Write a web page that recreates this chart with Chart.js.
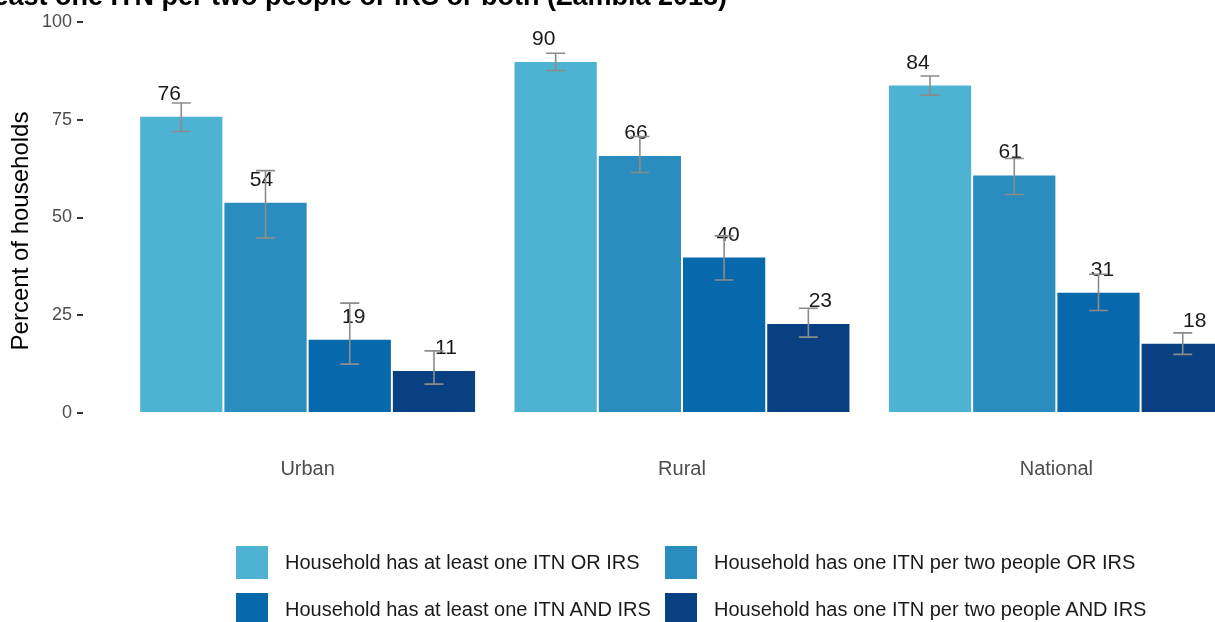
<!DOCTYPE html>
<html>
<head>
<meta charset="utf-8">
<script src="https://cdn.jsdelivr.net/npm/chart.js@4.4.0/dist/chart.umd.min.js"></script>
<style>
  body { margin: 0; width: 1215px; height: 622px; overflow: hidden; background: #fff; font-family: "Liberation Sans", Arial, sans-serif; position: relative; }
  #wrap { position: absolute; left: 0; top: 0; width: 1300px; height: 622px; }
  #title { position: absolute; right: 488px; top: -19px; font-weight: bold; font-size: 27px; color: #000; white-space: nowrap; }
  .lg { position: absolute; font-size: 20px; color: #1a1a1a; white-space: nowrap; }
  .sw { position: absolute; width: 32px; height: 33px; }
</style>
</head>
<body>
<div id="wrap"><canvas id="chart"></canvas></div>
<div id="title">least one ITN per two people or IRS or both (Zambia 2018)</div>
<div id="legend"></div>
<script>
const categories = ['Urban', 'Rural', 'National'];
const seriesNames = [
  'Household has at least one ITN OR IRS',
  'Household has one ITN per two people OR IRS',
  'Household has at least one ITN AND IRS',
  'Household has one ITN per two people AND IRS'
];
const seriesColors = ['#4eb3d3', '#2b8cbe', '#0868ac', '#084081'];

const atLeastOneOr = [76, 90, 84];
const perTwoOr = [54, 66, 61];
const atLeastOneAnd = [19, 40, 31];
const perTwoAnd = [11, 23, 18];

const lowAtLeastOneOr = [72, 87.6, 81.3];
const highAtLeastOneOr = [79.3, 92, 86.2];
const lowPerTwoOr = [44.8, 61.5, 55.9];
const highPerTwoOr = [62, 70.7, 65.1];
const lowAtLeastOneAnd = [12.5, 34, 26.2];
const highAtLeastOneAnd = [28.1, 45.3, 35.5];
const lowPerTwoAnd = [7.4, 19.4, 15];
const highPerTwoAnd = [15.9, 26.8, 20.5];

const yTicks = [0, 25, 50, 75, 100];

const values = [atLeastOneOr, perTwoOr, atLeastOneAnd, perTwoAnd];
const lows = [lowAtLeastOneOr, lowPerTwoOr, lowAtLeastOneAnd, lowPerTwoAnd];
const highs = [highAtLeastOneOr, highPerTwoOr, highAtLeastOneAnd, highPerTwoAnd];

// legend (2 x 2)
const legend = document.getElementById('legend');
const lgPos = [[236, 546], [665, 546], [236, 593], [665, 593]];
seriesNames.forEach((name, i) => {
  const sw = document.createElement('div');
  sw.className = 'sw';
  sw.style.left = lgPos[i][0] + 'px';
  sw.style.top = lgPos[i][1] + 'px';
  sw.style.background = seriesColors[i];
  legend.appendChild(sw);
  const t = document.createElement('div');
  t.className = 'lg';
  t.style.left = (lgPos[i][0] + 49) + 'px';
  t.style.top = (lgPos[i][1] + 5) + 'px';
  t.textContent = name;
  legend.appendChild(t);
});

const errorBars = {
  id: 'errorBars',
  afterDatasetsDraw(chart) {
    const ctx = chart.ctx;
    const y = chart.scales.y;
    ctx.save();
    chart.data.datasets.forEach((ds, i) => {
      const meta = chart.getDatasetMeta(i);
      meta.data.forEach((bar, j) => {
        // value labels, dodged a bit wider than the bars
        ctx.fillStyle = '#1a1a1a';
        ctx.font = '21px "Liberation Sans", Arial, sans-serif';
        ctx.textAlign = 'center';
        ctx.textBaseline = 'alphabetic';
        ctx.fillText(String(ds.data[j].y), bar.x + (i - 1.5) * 8, bar.y - 16);
      });
    });
    chart.data.datasets.forEach((ds, i) => {
      const meta = chart.getDatasetMeta(i);
      meta.data.forEach((bar, j) => {
        const lo = y.getPixelForValue(lows[i][j]);
        const hi = y.getPixelForValue(highs[i][j]);
        ctx.strokeStyle = '#8c8c8c';
        ctx.lineWidth = 1.6;
        ctx.beginPath();
        ctx.moveTo(bar.x, lo); ctx.lineTo(bar.x, hi);
        ctx.moveTo(bar.x - 9.5, lo); ctx.lineTo(bar.x + 9.5, lo);
        ctx.moveTo(bar.x - 9.5, hi); ctx.lineTo(bar.x + 9.5, hi);
        ctx.stroke();
      });
    });
    ctx.restore();
  }
};

new Chart(document.getElementById('chart'), {
  type: 'bar',
  data: {
    datasets: seriesNames.map((name, i) => ({
      label: name,
      data: values[i].map((v, j) => ({ x: j, y: v })),
      backgroundColor: seriesColors[i],
      borderColor: 'rgba(255,255,255,0.15)',
      borderWidth: 1,
      barPercentage: 1,
      categoryPercentage: 0.9
    }))
  },
  options: {
    responsive: true,
    maintainAspectRatio: false,
    animation: false,
    layout: { padding: { top: 22, right: 19, bottom: 0, left: 0 } },
    plugins: { legend: { display: false }, tooltip: { enabled: false } },
    scales: {
      x: {
        type: 'linear',
        offset: false,
        min: -0.6,
        max: 2.6,
        afterBuildTicks: s => { s.ticks = categories.map((c, k) => ({ value: k })); },
        afterFit: s => { s.height = 182; },
        ticks: {
          callback: v => categories[v],
          color: '#4d4d4d',
          font: { size: 20, family: '"Liberation Sans", Arial, sans-serif' },
          padding: 17,
          maxRotation: 0
        },
        grid: { display: false, drawTicks: false },
        border: { display: false }
      },
      y: {
        min: -6.9,
        max: 100,
        afterBuildTicks: s => { s.ticks = yTicks.map(v => ({ value: v })); },
        afterFit: s => { s.width = 83; },
        ticks: {
          color: '#4d4d4d',
          font: { size: 18, family: '"Liberation Sans", Arial, sans-serif' },
          padding: 5
        },
        grid: { drawOnChartArea: false, drawTicks: true, tickLength: 6, tickColor: '#333', lineWidth: 2 },
        border: { display: false },
        title: {
          display: true,
          text: 'Percent of households',
          color: '#000',
          font: { size: 24, family: '"Liberation Sans", Arial, sans-serif' },
          padding: { top: 7, bottom: 0 }
        }
      }
    }
  },
  plugins: [errorBars]
});
</script>
</body>
</html>
